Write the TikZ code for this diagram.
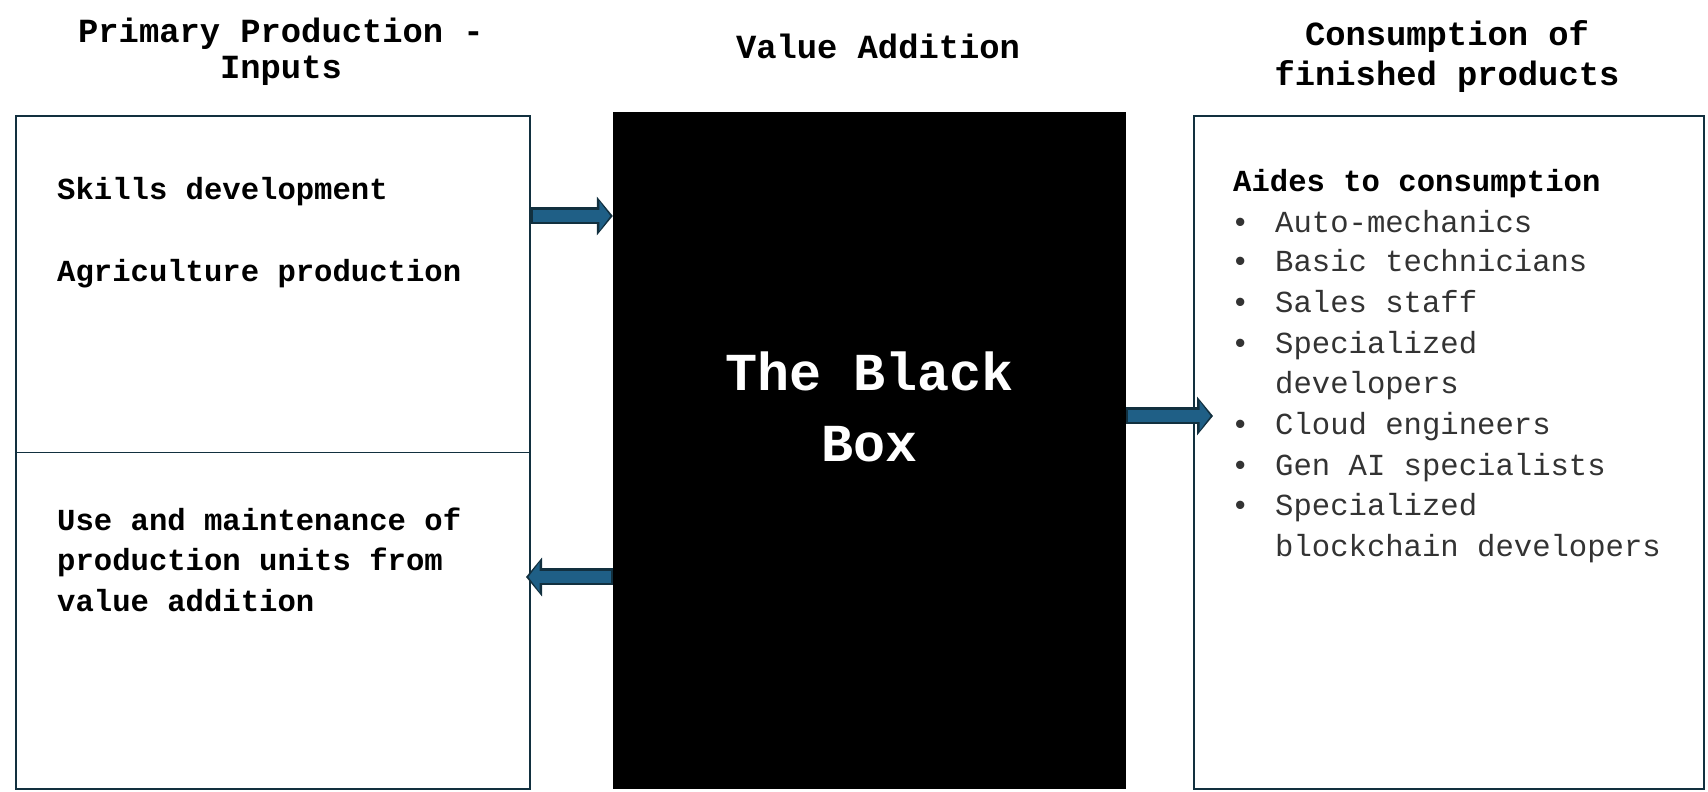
\documentclass[tikz,border=0pt]{standalone}
\usepackage{fontspec}
\setmonofont{Liberation Mono}
\usetikzlibrary{arrows.meta}
\definecolor{edgeteal}{HTML}{12303F}
\definecolor{flowblue}{HTML}{1F5F86}
\tikzset{>=latex}
\tikzset{
  panel/.style={draw=edgeteal, line width=2.5pt, inner sep=0pt},
  head/.style={font=\ttfamily\bfseries\fontsize{33.8}{38}\selectfont, inner sep=0pt, anchor=base},
  boldline/.style={font=\ttfamily\bfseries\fontsize{30.6}{40.6}\selectfont, inner sep=0pt, anchor=base west},
  plainline/.style={font=\ttfamily\fontsize{30.6}{40.6}\selectfont, inner sep=0pt, anchor=base west, text=black!80},
  flowout/.style={draw=edgeteal, line width=17pt, -{Triangle[width=38pt,length=16pt]}},
  flowin/.style={draw=flowblue, line width=12pt, -{Triangle[width=29pt,length=11pt]}, shorten >=2.5pt, shorten <=1.5pt}
}

\begin{document}
\begin{tikzpicture}[x=1pt,y=1pt]
                \useasboundingbox (0,0) rectangle (1708,792);
                % headings
                \node[head] (h1) at (281,749) {Primary Production -};
                \node[head] (h1b) at (281,713) {Inputs};
                \node[head] (h2) at (878,733) {Value Addition};
                \node[head] (h3) at (1447,746) {Consumption of};
                \node[head] (h3b) at (1447,706) {finished products};
                % the three panels
                \node[panel, minimum width=514pt, minimum height=673pt] (inp) at (273,339.5) {};
                \node[fill=black, inner sep=0pt, minimum width=513pt, minimum height=677pt] (bb) at (869.5,341.5) {};
                \node[panel, minimum width=510pt, minimum height=673pt] (out) at (1449,339.5) {};
                \draw[draw=edgeteal, line width=1.5pt] (inp.west) -- (inp.east);
                % left panel text
                \node[boldline] (skills) at (57,592) {Skills development};
                \node[boldline] (agri) at (57,510) {Agriculture production};
                \node[boldline] (use1) at (57,261) {Use and maintenance of};
                \node[boldline] (use2) at (57,221) {production units from};
                \node[boldline] (use3) at (57,180) {value addition};
                % black box text
                \node[head, text=white, font=\ttfamily\bfseries\fontsize{53.4}{60}\selectfont] (bb1) at (869.5,401) {The Black};
                \node[head, text=white, font=\ttfamily\bfseries\fontsize{53.4}{60}\selectfont] (bb2) at (869.5,330) {Box};
                % right panel list
                \node[boldline] (aides) at (1233,600) {Aides to consumption};
                \foreach \y in {559,520,479,438,357,316,276}
                  \node[plainline] at (1231,\y) {\textbullet};
                \foreach \y/\txt in {559/Auto-mechanics, 520/Basic technicians, 479/Sales staff,
                    438/Specialized, 398/developers, 357/Cloud engineers, 316/Gen AI specialists,
                    276/Specialized, 235/blockchain developers}
                  \node[plainline] at (1275,\y) {\txt};
                % arrows
                \coordinate (a1s) at (inp.east |- 0,576);
                \coordinate (a1e) at (bb.west |- 0,576);
                \coordinate (a2s) at (bb.east |- 0,376);
                \coordinate (a2e) at (1213,376);
                \coordinate (a3s) at (bb.west |- 0,215);
                \coordinate (a3e) at (526,215);
                \draw[flowout] (a1s) -- (a1e);
                \draw[flowin] (a1s) -- (a1e);
                \draw[flowout] (a2s) -- (a2e);
                \draw[flowin] (a2s) -- (a2e);
                \draw[flowout] (a3s) -- (a3e);
                \draw[flowin] (a3s) -- (a3e);
            \end{tikzpicture}
\end{document}
